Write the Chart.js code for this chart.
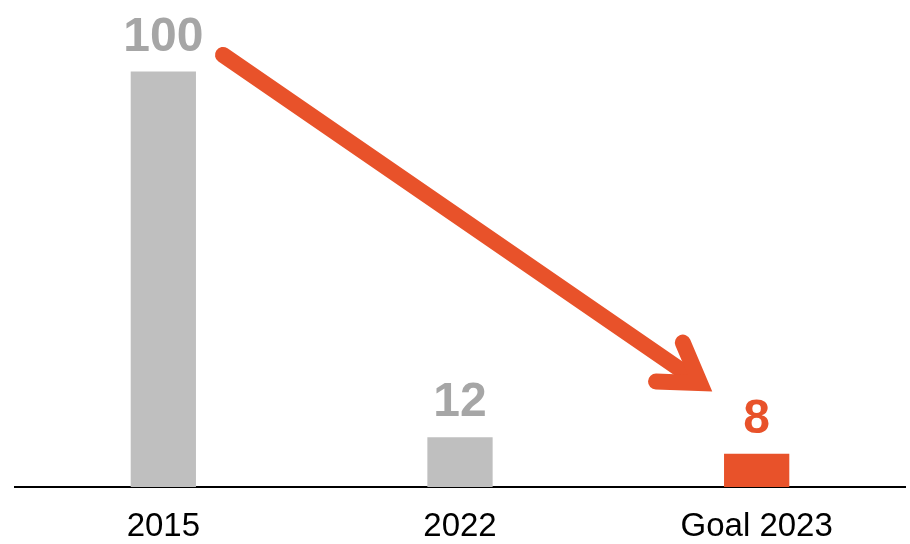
<!DOCTYPE html>
<html>
<head>
<meta charset="utf-8">
<script src="https://cdn.jsdelivr.net/npm/chart.js@4"></script>
<style>
  html, body { margin: 0; padding: 0; background: #fff; }
  #wrap { width: 910px; height: 544px; }
</style>
</head>
<body>
<div id="wrap"><canvas id="c" width="910" height="544"></canvas></div>
<script>
const categories = ['2015', '2022', 'Goal 2023'];
const values = [100, 12, 8];
const barColors = ['#BFBFBF', '#BFBFBF', '#E8522A'];
const labelColors = ['#A6A6A6', '#A6A6A6', '#E8522A'];
// arrow annotation anchored in data space: [category index, value]
const arrowStart = [0.201, 104];
const arrowEnd = [1.809, 25];

const valueLabels = {
  id: 'valueLabels',
  afterDatasetsDraw(chart) {
    const ctx = chart.ctx;
    const meta = chart.getDatasetMeta(0);
    ctx.save();
    ctx.font = 'bold 48px "Liberation Sans", Arial, sans-serif';
    ctx.textAlign = 'center';
    ctx.textBaseline = 'alphabetic';
    meta.data.forEach((bar, i) => {
      ctx.fillStyle = labelColors[i];
      ctx.fillText(String(values[i]), bar.x, bar.y - 21);
    });
    ctx.restore();
  }
};

const arrowPlugin = {
  id: 'arrow',
  afterDatasetsDraw(chart) {
    const xs = chart.scales.x, ys = chart.scales.y;
    const px = v => xs.getPixelForValue(0) + (xs.getPixelForValue(1) - xs.getPixelForValue(0)) * v;
    const x1 = px(arrowStart[0]), y1 = ys.getPixelForValue(arrowStart[1]);
    const x2 = px(arrowEnd[0]), y2 = ys.getPixelForValue(arrowEnd[1]);
    const ang = Math.atan2(y2 - y1, x2 - x1);
    const headLen = 44, spread = 32.5 * Math.PI / 180;
    const ctx = chart.ctx;
    ctx.save();
    ctx.strokeStyle = '#E8522A';
    ctx.lineWidth = 16;
    ctx.lineCap = 'round';
    ctx.lineJoin = 'miter';
    ctx.miterLimit = 10;
    ctx.beginPath();
    ctx.moveTo(x1, y1);
    ctx.lineTo(x2 - Math.cos(ang) * 6, y2 - Math.sin(ang) * 6);
    ctx.stroke();
    ctx.beginPath();
    ctx.moveTo(x2 - headLen * Math.cos(ang - spread), y2 - headLen * Math.sin(ang - spread));
    ctx.lineTo(x2, y2);
    ctx.lineTo(x2 - headLen * Math.cos(ang + spread), y2 - headLen * Math.sin(ang + spread));
    ctx.stroke();
    ctx.restore();
  }
};

new Chart(document.getElementById('c'), {
  type: 'bar',
  data: {
    labels: categories,
    datasets: [{
      data: values,
      backgroundColor: barColors,
      borderWidth: 0,
      categoryPercentage: 1,
      barPercentage: 0.22
    }]
  },
  options: {
    responsive: false,
    animation: false,
    devicePixelRatio: 1,
    layout: { padding: { left: 15, right: 5, top: 30, bottom: 0 } },
    plugins: { legend: { display: false }, tooltip: { enabled: false } },
    scales: {
      x: {
        afterFit(scale) { scale.height = 57; },
        grid: { display: true, color: 'transparent', drawTicks: false },
        border: { display: true, color: '#000', width: 2 },
        ticks: {
          color: '#000',
          padding: 22,
          font: { family: '"Liberation Sans", Arial, sans-serif', size: 33, lineHeight: 1.1 }
        }
      },
      y: {
        display: false,
        min: 0,
        max: 110
      }
    }
  },
  plugins: [valueLabels, arrowPlugin]
});
</script>
</body>
</html>
